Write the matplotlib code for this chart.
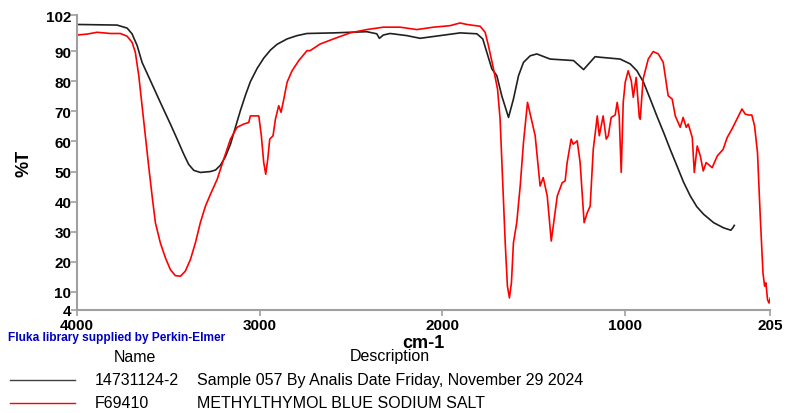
import matplotlib.pyplot as plt

plt.rcParams['font.family'] = ['Liberation Sans', 'DejaVu Sans']

# sample 14731124-2 (black)
wn_sample = [4000, 3781, 3726, 3699, 3671, 3644, 3598, 3544, 3489, 3452, 3416, 3389,
             3361, 3325, 3270, 3242, 3215, 3188, 3160, 3133, 3106, 3078, 3051, 3014,
             2978, 2941, 2905, 2850, 2795, 2741, 2596, 2414, 2359, 2345, 2323, 2286,
             2195, 2122, 2012, 1903, 1811, 1779, 1757, 1729, 1702, 1675, 1638, 1611,
             1583, 1556, 1519, 1483, 1410, 1282, 1227, 1164, 1136, 1027, 972, 935, 899,
             862, 826, 789, 753, 716, 680, 643, 607, 570, 515, 461, 421, 410, 402]
t_sample = [98.9, 98.7, 97.7, 95.8, 91.9, 86.3, 80.2, 73.0, 65.8, 60.8, 55.8, 52.4,
            50.4, 49.7, 50.0, 50.5, 52.1, 54.9, 59.1, 64.7, 70.2, 75.4, 79.9, 84.3,
            87.7, 90.4, 92.3, 94.1, 95.2, 95.9, 96.1, 96.5, 95.8, 94.3, 95.4, 95.9,
            95.2, 94.3, 95.2, 96.1, 95.8, 94.1, 89.7, 84.1, 81.9, 75.2, 68.0, 74.1,
            81.9, 86.3, 88.5, 89.1, 87.4, 86.9, 83.9, 88.2, 88.0, 87.4, 85.8, 83.5, 79.7,
            74.1, 68.5, 63.0, 57.4, 51.9, 46.5, 41.9, 38.3, 35.8, 33.0, 31.3, 30.5, 31.3, 32.1]

# F69410 methylthymol blue sodium salt (red)
wn_ref = [4000, 3945, 3890, 3817, 3763, 3726, 3699, 3681, 3662, 3644, 3626, 3608, 3589,
          3571, 3544, 3516, 3489, 3462, 3434, 3407, 3379, 3352, 3325, 3297, 3270, 3233,
          3197, 3160, 3124, 3087, 3060, 3051, 3005, 2991, 2978, 2967, 2956, 2945, 2927,
          2914, 2896, 2883, 2868, 2850, 2823, 2786, 2741, 2724, 2669, 2596, 2505, 2414,
          2323, 2231, 2140, 2049, 1958, 1903, 1866, 1793, 1766, 1748, 1720, 1698, 1684,
          1671, 1656, 1644, 1633, 1622, 1611, 1593, 1574, 1556, 1534,
          1492, 1465, 1448, 1426, 1404, 1371, 1344, 1328, 1317, 1295, 1284, 1262, 1246,
          1224, 1207, 1191, 1174, 1152, 1141, 1120, 1103, 1092, 1076, 1054, 1043, 1032,
          1021, 1010, 999, 983, 966, 955, 939, 922, 917, 901, 873, 846, 818, 791, 764,
          742, 725, 698, 682, 665, 654, 632, 621, 605, 588, 572, 556, 523, 495, 463,
          441, 415, 388, 360, 342, 324, 306, 291, 275, 260, 245, 236, 229, 220, 212, 205]
t_ref = [95.4, 95.7, 96.3, 95.9, 95.9, 95.0, 93.0, 89.7, 81.9, 71.9, 61.9, 51.9, 41.9,
         33.0, 26.3, 21.3, 17.4, 15.4, 15.2, 16.9, 20.8, 26.3, 33.0, 38.5, 42.4, 47.4,
         54.1, 60.8, 64.7, 65.8, 66.3, 68.5, 68.5, 61.9, 53.0, 49.1, 54.1, 60.8, 61.9,
         67.4, 71.9, 69.7, 74.1, 79.7, 83.5, 86.9, 90.2, 90.2, 92.4, 94.1, 96.1, 97.2,
         98.0, 98.0, 97.2, 98.0, 98.5, 99.4, 98.9, 98.3, 96.3, 91.9, 84.1, 77.4, 67.4,
         48.5, 26.3, 11.9, 8.0, 13.0, 26.3, 33.0, 45.2, 59.7, 73.0,
         61.9, 45.2, 48.0, 41.9, 26.9, 41.9, 46.3, 46.9, 53.0, 60.8, 59.1, 60.2, 53.0,
         33.0, 36.3, 38.5, 57.4, 68.5, 61.9, 68.5, 60.8, 61.9, 68.0, 68.8, 73.0, 68.5,
         49.7, 73.0, 79.7, 83.5, 80.2, 74.7, 81.3, 68.0, 67.4, 80.8, 87.4, 89.9, 89.1,
         86.3, 75.2, 74.1, 68.5, 64.7, 68.0, 64.7, 65.8, 61.3, 49.7, 58.5, 55.2, 50.2,
         53.0, 51.3, 55.2, 57.4, 61.3, 64.1, 67.4, 70.8, 69.1, 68.8, 68.8, 65.2, 56.3,
         35.2, 16.3, 11.9, 13.0, 7.4, 6.3, 8.0]

yticks = [4, 10, 20, 30, 40, 50, 60, 70, 80, 90, 102]
xticks = [4000, 3000, 2000, 1000, 205]

names = ['14731124-2', 'F69410']
descs = ['Sample 057 By Analis Date Friday, November 29 2024',
         'METHYLTHYMOL BLUE SODIUM SALT']

fig = plt.figure(figsize=(7.86, 4.14), dpi=100)
ax = fig.add_axes([0.098, 0.249, 0.882, 0.712])
ax.plot(wn_sample, t_sample, color='#202020', lw=1.2)
ax.plot(wn_ref, t_ref, color='#ff0000', lw=1.2)
ax.set_xlim(4000, 205)
ax.set_ylim(4, 102)
ax.set_xticks(xticks)
ax.set_yticks(yticks)
ax.set_xticklabels([str(v) for v in xticks], fontweight='bold', fontsize=11)
ax.set_yticklabels([str(v) for v in yticks], fontweight='bold', fontsize=11)
for s in ['top', 'right']:
    ax.spines[s].set_visible(False)
for s in ['left', 'bottom']:
    ax.spines[s].set_color('#a0a0a0')
    ax.spines[s].set_linewidth(1.5)
ax.tick_params(colors='#a0a0a0', labelcolor='black', length=4, width=1.2, pad=0)
ax.tick_params(axis='x', pad=2)
ax.set_ylabel('%T', fontweight='bold', fontsize=13, labelpad=10)
ax.set_xlabel('cm-1', fontweight='bold', fontsize=13, labelpad=1)

fig.text(8/786, 1-338/414, 'Fluka library supplied by Perkin-Elmer', color='#0000c0',
         fontsize=8.6, fontweight='bold', va='center', ha='left')
fig.text(135/786, 1-357/414, 'Name', fontsize=11.5, ha='center', va='center')
fig.text(390/786, 1-357/414, 'Description', fontsize=11.5, ha='center', va='center')
rows_y = [381, 404]
line_cols = ['#404040', '#ff0000']
for i in range(2):
    y = 1 - rows_y[i]/414
    fig.add_artist(plt.Line2D([10/786, 75/786], [y, y], color=line_cols[i], lw=1,
                              transform=fig.transFigure))
    fig.text(95/786, y, names[i], fontsize=11.5, ha='left', va='center')
    fig.text(197/786, y, descs[i], fontsize=11.5, ha='left', va='center')

fig.savefig('out.png', dpi=100)
